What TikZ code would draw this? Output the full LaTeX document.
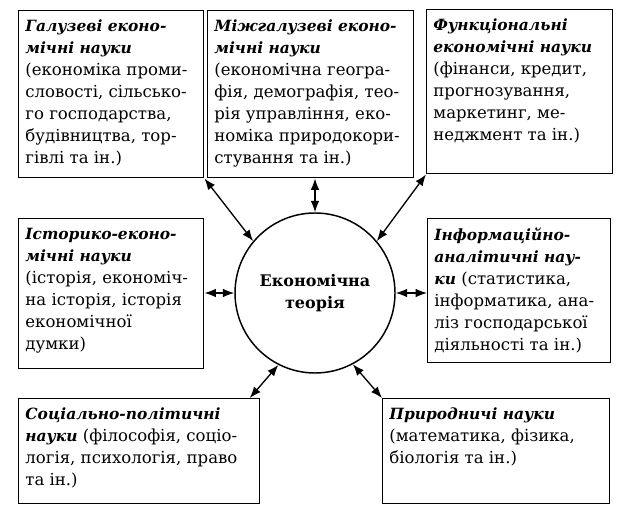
\documentclass[tikz,border=0pt]{standalone}
\usepackage{fontspec}
\setmainfont{DejaVu Serif}
\usetikzlibrary{arrows.meta}

\newcommand{\sci}[1]{{\fontsize{11.6}{16.5}\selectfont\bfseries\itshape #1}}
\newcommand{\boxtext}[3]{\begin{minipage}[c][#2][t]{#1}\raggedright\fontsize{12.4}{16.5}\selectfont\vspace*{7pt}#3\end{minipage}}

\tikzset{
  scibox/.style={draw, line width=1.1pt, anchor=north west, inner xsep=5pt, inner ysep=0pt},
  link/.style={line width=1pt, {Latex[length=8.5pt,width=6.5pt]}-{Latex[length=8.5pt,width=6.5pt]}}
}

\begin{document}
\begin{tikzpicture}[x=0.75pt,y=0.75pt,yscale=-1,xscale=1]
\useasboundingbox (0,0) rectangle (624,516);

% Text Node
\node [scibox] (galuz) at (18,10) {\boxtext{128.75pt}{125.25pt}{\sci{Галузеві еконо-\\мічні науки}\\(економіка проми-\\словості, сільсько-\\го господарства,\\будівництва, тор-\\гівлі та ін.)}};
% Text Node
\node [scibox] (mizh) at (207,10) {\boxtext{144.5pt}{125.25pt}{\sci{Міжгалузеві еконо-\\мічні науки}\\(економічна геогра-\\фія, демографія, тео-\\рія управління, еко-\\номіка природокори-\\стування та ін.)}};
% Text Node
\node [scibox] (funk) at (426,9) {\boxtext{129.5pt}{123pt}{\sci{Функціональні\\економічні науки}\\(фінанси, кредит,\\прогнозування,\\маркетинг, ме-\\неджмент та ін.)}};
% Text Node
\node [scibox] (istor) at (18,218) {\boxtext{128.75pt}{112.5pt}{\sci{Історико-еконо-\\мічні науки}\\(історія, економіч-\\на історія, історія\\економічної\\думки)}};
% Text Node
\node [scibox] (inform) at (427,218) {\boxtext{127.25pt}{108pt}{\sci{Інформаційно-\\аналітичні нау-\\ки} (статистика,\\інформатика, ана-\\ліз господарської\\діяльності та ін.)}};
% Text Node
\node [scibox] (social) at (18,398) {\boxtext{170.75pt}{78.75pt}{\sci{Соціально-політичні\\науки} (філософія, соціо-\\логія, психологія, право\\та ін.)}};
% Text Node
\node [scibox] (pryrod) at (382,398) {\boxtext{160.25pt}{78.75pt}{\sci{Природничі науки}\\(математика, фізика,\\біологія та ін.)}};

% Circle
\node [draw, circle, line width=1.1pt, minimum size=120pt, inner sep=0pt, align=center, font=\bfseries\fontsize{12}{16.5}\selectfont] (teor) at (315,293) {Економічна\\теорія};

%Straight Lines
\draw [link] (galuz.south east) -- (teor.140);
\draw [link] (teor.north) -- (teor.north |- mizh.south);
\draw [link] (funk.south west) -- (teor.40);
\draw [link] (istor.east |- teor.west) -- (teor.west);
\draw [link] (teor.east) -- (teor.east -| inform.west);
\draw [link] (teor.243) -- ([xshift=-8pt]social.north east);
\draw [link] (teor.298) -- (pryrod.north west);

\end{tikzpicture}
\end{document}
